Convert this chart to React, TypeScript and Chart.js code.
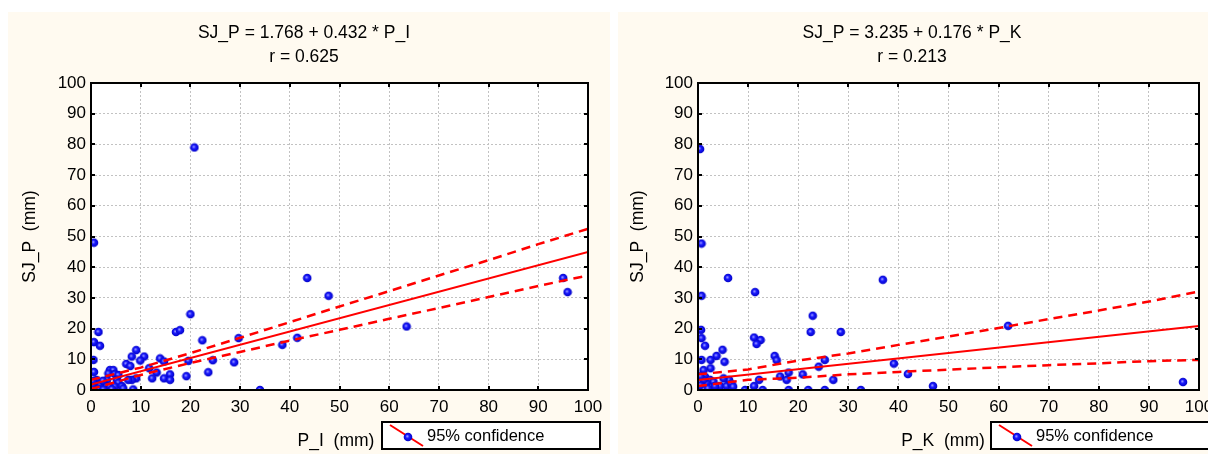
import React, { useEffect, useRef } from "react";
import { Chart, registerables } from "chart.js";

Chart.register(...registerables);

const FONT = '"Liberation Sans", Arial, Helvetica, sans-serif';

// ---------- data ----------
const axisTicks = [0, 10, 20, 30, 40, 50, 60, 70, 80, 90, 100];

// Left: SJ_P vs P_I
const leftX = [
  0.6, 20.8, 1.5, 0.6, 1.8, 0.5, 0.6, 20.0, 17.1, 17.9, 22.4, 29.7, 9.1, 8.2, 10.7, 9.9, 13.9, 14.7, 19.6, 24.5,
  28.8, 7.1, 7.9, 11.7, 13.2, 15.9, 23.6, 19.2, 12.3, 14.7, 15.9, 9.1, 8.2, 7.5, 34.0, 3.8, 4.5, 3.5, 4.8, 5.5,
  3.2, 5.2, 5.5, 2.8, 3.8, 4.8, 6.2, 6.5, 1.1, 0.8, 1.8, 0.5, 1.5, 2.4, 0.4, 38.5, 41.5, 43.5, 47.8, 63.5,
  95.0, 95.9, 0.5, 2.5, 4.2, 8.5,
];
const leftY = [
  48.0, 79.0, 18.9, 15.6, 14.4, 9.8, 5.9, 24.7, 18.9, 19.5, 16.2, 16.9, 13.0, 10.9, 10.9, 9.6, 10.3, 9.3, 9.5, 9.7,
  9.0, 8.5, 7.8, 7.1, 5.7, 5.1, 5.8, 4.5, 3.8, 3.8, 3.3, 3.8, 3.3, 3.3, 0.0, 6.5, 6.5, 5.4, 5.2, 4.9,
  3.3, 3.3, 2.4, 1.6, 1.1, 1.1, 1.3, 0.5, 3.3, 2.2, 1.6, 1.1, 0.5, 3.0, 3.0, 14.7, 17.0, 36.5, 30.7, 20.7,
  36.5, 31.9, 0.2, 0.2, 0.3, 0.2,
];
const leftFitX = [0, 100];
const leftFitY = [1.768, 44.968];
const leftUpper = [3.3, 7.3, 12.0, 17.0, 22.1, 27.2, 32.2, 37.3, 42.3, 47.5, 52.5];
const leftLower = [0.3, 4.9, 8.8, 12.4, 16.1, 19.6, 23.2, 26.7, 30.3, 33.9, 37.3];

// Right: SJ_P vs P_K
const rightX = [
  0.4, 0.7, 6.0, 11.4, 36.9, 0.7, 22.9, 22.5, 28.5, 0.6, 0.7, 1.4, 11.2, 12.5, 11.7, 4.9, 3.7, 2.5, 5.3, 0.7,
  15.3, 15.7, 25.3, 24.1, 2.5, 1.1, 18.1, 20.9, 16.4, 17.7, 27.0, 12.2, 6.2, 5.1, 11.2, 9.4, 12.9, 18.1, 22.0, 25.3,
  32.5, 1.4, 2.4, 3.1, 1.7, 1.1, 4.4, 5.7, 6.7, 7.0, 3.4, 0.5, 0.5, 2.0, 39.1, 41.9, 46.9, 61.9, 96.8,
];
const rightY = [
  78.5, 47.7, 36.5, 31.9, 35.9, 30.7, 24.2, 18.9, 18.9, 19.6, 16.9, 14.4, 17.1, 16.3, 15.0, 13.1, 11.1, 9.8, 9.2, 9.8,
  11.1, 9.7, 9.8, 7.6, 7.1, 6.5, 5.7, 5.1, 4.4, 3.3, 3.3, 3.3, 3.3, 3.8, 1.3, 0.0, 0.0, 0.0, 0.0, 0.0,
  0.0, 4.3, 3.3, 2.7, 2.2, 3.3, 1.3, 1.3, 2.0, 1.1, 1.3, 1.5, 4.5, 0.5, 8.6, 5.2, 1.3, 20.9, 2.6,
];
const rightFitX = [0, 100];
const rightFitY = [3.235, 20.835];
const rightUpper = [5.1, 6.7, 9.6, 11.9, 14.7, 17.4, 20.2, 23.1, 25.9, 28.8, 32.1];
const rightLower = [1.3, 3.3, 4.0, 5.1, 5.9, 6.6, 7.4, 8.1, 8.7, 9.4, 9.8];

const leftTitle = ["SJ_P = 1.768 + 0.432 * P_I", "r = 0.625"];
const rightTitle = ["SJ_P = 3.235 + 0.176 * P_K", "r = 0.213"];
const yAxisTitle = "SJ_P  (mm)";
const leftXTitle = "P_I  (mm)";
const rightXTitle = "P_K  (mm)";
const legendLabel = "95% confidence";

// ---------- helpers ----------
function makeDot(): HTMLCanvasElement {
  const c = document.createElement("canvas");
  c.width = 10;
  c.height = 10;
  const g = c.getContext("2d")!;
  const grad = g.createRadialGradient(4.2, 4.2, 0.3, 5, 5, 4.6);
  grad.addColorStop(0, "#9a9aff");
  grad.addColorStop(0.35, "#1a1aff");
  grad.addColorStop(1, "#0000c0");
  g.fillStyle = grad;
  g.beginPath();
  g.arc(5, 5, 4.3, 0, Math.PI * 2);
  g.fill();
  return c;
}

const pairs = (xs: number[], ys: number[]) => xs.map((x, i) => ({ x, y: ys[i] }));

interface PanelCfg {
  left: number;
  width: number;
  yAxisW: number;
  padRight: number;
  title: string[];
  titleX: number;
  yTitleX: number;
  xTitle: string;
  xTitleX: number;
  legendX: number;
  xs: number[];
  ys: number[];
  fitX: number[];
  fitY: number[];
  upper: number[];
  lower: number[];
}

function Panel({ cfg }: { cfg: PanelCfg }) {
  const ref = useRef<HTMLCanvasElement>(null);
  useEffect(() => {
    const dot = makeDot();
    const decor = {
      id: "decor",
      beforeDraw(chart: any) {
        const { ctx, chartArea: a, width, height } = chart;
        ctx.save();
        ctx.fillStyle = "#FFFAF0";
        ctx.fillRect(0, 0, width, height);
        ctx.fillStyle = "#ffffff";
        ctx.fillRect(a.left, a.top, a.right - a.left, a.bottom - a.top);
        ctx.restore();
      },
      afterDraw(chart: any) {
        const { ctx, chartArea: a } = chart;
        const xs = chart.scales.x;
        const ys = chart.scales.y;
        ctx.save();
        // frame
        ctx.strokeStyle = "#000";
        ctx.lineWidth = 2;
        ctx.strokeRect(a.left, a.top, a.right - a.left, a.bottom - a.top);
        // inward ticks
        ctx.lineWidth = 2;
        ctx.beginPath();
        for (const v of axisTicks) {
          const px = Math.round(xs.getPixelForValue(v));
          ctx.moveTo(px, a.bottom);
          ctx.lineTo(px, a.bottom - 4);
          ctx.moveTo(px, a.top);
          ctx.lineTo(px, a.top + 4);
          const py = Math.round(ys.getPixelForValue(v));
          ctx.moveTo(a.left, py);
          ctx.lineTo(a.left + 4, py);
          ctx.moveTo(a.right, py);
          ctx.lineTo(a.right - 4, py);
        }
        ctx.stroke();
        // titles
        ctx.fillStyle = "#000";
        ctx.textAlign = "center";
        ctx.textBaseline = "middle";
        ctx.font = `17.5px ${FONT}`;
        ctx.fillText(cfg.title[0], cfg.titleX, 21);
        ctx.fillText(cfg.title[1], cfg.titleX, 45);
        // x axis title
        ctx.font = `17.5px ${FONT}`;
        ctx.fillText(cfg.xTitle, cfg.xTitleX, 429);
        // y axis title
        ctx.save();
        ctx.translate(cfg.yTitleX, (a.top + a.bottom) / 2);
        ctx.rotate(-Math.PI / 2);
        ctx.fillText(yAxisTitle, 0, 0);
        ctx.restore();
        // legend
        const bx = cfg.legendX;
        const by = 410;
        ctx.fillStyle = "#ffffff";
        ctx.fillRect(bx, by, 218, 27);
        ctx.strokeStyle = "#000";
        ctx.lineWidth = 2;
        ctx.strokeRect(bx, by, 218, 27);
        ctx.strokeStyle = "#ff0000";
        ctx.lineWidth = 2;
        ctx.beginPath();
        ctx.moveTo(bx + 8, by + 3);
        ctx.lineTo(bx + 41, by + 24);
        ctx.stroke();
        ctx.drawImage(dot, bx + 21, by + 10);
        ctx.fillStyle = "#000";
        ctx.textAlign = "left";
        ctx.font = `16.5px ${FONT}`;
        ctx.fillText(legendLabel, bx + 45, by + 14);
        ctx.restore();
      },
    };

    const dashed = {
      showLine: true,
      borderColor: "#ff0000",
      borderWidth: 2.5,
      borderDash: [9, 6],
      pointRadius: 0,
      fill: false,
    };

    const chart = new Chart(ref.current!, {
      type: "scatter",
      data: {
        datasets: [
          {
            data: pairs(cfg.fitX, cfg.fitY),
            showLine: true,
            borderColor: "#ff0000",
            borderWidth: 2,
            pointRadius: 0,
            fill: false,
          } as any,
          { data: pairs(axisTicks, cfg.upper), ...dashed } as any,
          { data: pairs(axisTicks, cfg.lower), ...dashed } as any,
          {
            data: pairs(cfg.xs, cfg.ys),
            pointStyle: dot,
            pointRadius: 4,
            clip: 0,
          } as any,
        ],
      },
      options: {
        animation: false,
        responsive: true,
        maintainAspectRatio: false,
        events: [],
        layout: { padding: { top: 71, right: cfg.padRight, left: 0, bottom: 0 } },
        plugins: {
          legend: { display: false },
          tooltip: { enabled: false },
          title: { display: false },
        },
        scales: {
          x: {
            type: "linear",
            min: 0,
            max: 100,
            ticks: {
              stepSize: 10,
              color: "#000",
              font: { family: FONT, size: 17 },
              padding: 7,
              maxRotation: 0,
              autoSkip: false,
            },
            grid: { color: "#c2c2c2", lineWidth: 1, drawTicks: false },
            border: { display: false, dash: [2, 2] },
            afterFit(s: any) {
              s.height = 64;
              s.paddingLeft = 0;
              s.paddingRight = 0;
            },
          },
          y: {
            type: "linear",
            min: 0,
            max: 100,
            ticks: {
              stepSize: 10,
              color: "#000",
              font: { family: FONT, size: 17 },
              padding: 5,
              autoSkip: false,
            },
            grid: { color: "#c2c2c2", lineWidth: 1, drawTicks: false },
            border: { display: false, dash: [2, 2] },
            afterFit(s: any) {
              s.width = cfg.yAxisW;
              s.paddingTop = 0;
              s.paddingBottom = 0;
            },
          },
        } as any,
      },
      plugins: [decor],
    });
    return () => chart.destroy();
  }, []);

  return (
    <div
      style={{
        position: "fixed",
        left: cfg.left,
        top: 12,
        width: cfg.width,
        height: 442,
        background: "#FFFAF0",
        overflow: "hidden",
      }}
    >
      <canvas ref={ref} style={{ display: "block" }} />
    </div>
  );
}

const leftCfg: PanelCfg = {
  left: 8,
  width: 602,
  yAxisW: 83,
  padRight: 22,
  title: leftTitle,
  titleX: 296,
  yTitleX: 22,
  xTitle: leftXTitle,
  xTitleX: 328,
  legendX: 374,
  xs: leftX,
  ys: leftY,
  fitX: leftFitX,
  fitY: leftFitY,
  upper: leftUpper,
  lower: leftLower,
};

const rightCfg: PanelCfg = {
  left: 618,
  width: 590,
  yAxisW: 80,
  padRight: 9,
  title: rightTitle,
  titleX: 294,
  yTitleX: 20,
  xTitle: rightXTitle,
  xTitleX: 325,
  legendX: 373,
  xs: rightX,
  ys: rightY,
  fitX: rightFitX,
  fitY: rightFitY,
  upper: rightUpper,
  lower: rightLower,
};

export default function App() {
  return (
    <div style={{ position: "fixed", left: 0, top: 0, width: 1208, height: 454, background: "#ffffff" }}>
      <Panel cfg={leftCfg} />
      <Panel cfg={rightCfg} />
    </div>
  );
}
